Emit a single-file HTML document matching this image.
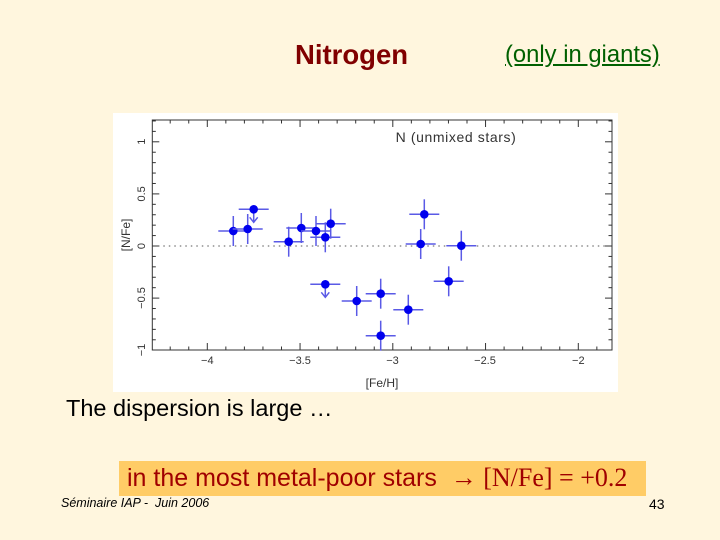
<!DOCTYPE html>
<html><head><meta charset="utf-8"><style>
html,body{margin:0;padding:0}
body{width:720px;height:540px;background:#FFF6DE;position:relative;overflow:hidden;font-family:"Liberation Sans",sans-serif}
.t{position:absolute;white-space:nowrap}
</style></head><body>
<div class="t" style="left:295px;top:39px;font-size:27.5px;font-weight:bold;color:#800000">Nitrogen</div>
<div class="t" style="left:505px;top:41px;font-size:23.8px;color:#006000;text-decoration:underline">(only in giants)</div>
<div style="position:absolute;left:113px;top:113px;width:505px;height:279px;background:#fff"></div>
<svg style="position:absolute;left:0;top:0" width="720" height="540" id="s">
<rect x="152.3" y="120" width="459.7" height="230" fill="none" stroke="#333" stroke-width="1"/>
<line x1="152.3" y1="246" x2="612" y2="246" stroke="#555" stroke-dasharray="1.5,4"/>
<g id="ticks" stroke="#333" stroke-width="1"></g>
<g font-family="Liberation Sans,sans-serif" font-size="11" fill="#333" text-anchor="middle">
<text x="207.3" y="364">−4</text><text x="300" y="364">−3.5</text><text x="392.5" y="364">−3</text><text x="485" y="364">−2.5</text><text x="578.3" y="364">−2</text>
<text transform="translate(145,141.7) rotate(-90)">1</text>
<text transform="translate(145,193.9) rotate(-90)">0.5</text>
<text transform="translate(145,246) rotate(-90)">0</text>
<text transform="translate(145,298) rotate(-90)">−0.5</text>
<text transform="translate(145,350) rotate(-90)">−1</text>
<text x="382" y="387" font-size="12">[Fe/H]</text>
<text transform="translate(130,235) rotate(-90)" font-size="12">[N/Fe]</text>
<text x="456" y="142" font-size="14" letter-spacing="0.6">N (unmixed stars)</text>
</g>
<g id="pts"></g>
</svg>
<div class="t" style="left:66px;top:395px;font-size:23.5px;color:#000">The dispersion is large …</div>
<div style="position:absolute;left:119px;top:461px;width:527px;height:35px;background:#FFCC66"></div>
<div class="t" style="left:127px;top:463px;font-size:25px;color:#A00000">in the most metal-poor stars &nbsp;<span style="font-family:'Liberation Serif',serif;font-size:26px">→ [N/Fe] = +0.2</span></div>
<div class="t" style="left:61px;top:496px;font-size:12.5px;font-style:italic;color:#000">Séminaire IAP - &nbsp;Juin 2006</div>
<div class="t" style="left:649px;top:496px;font-size:14px;color:#000">43</div>
<script>
var ns="http://www.w3.org/2000/svg";
function el(p,n,a){var e=document.createElementNS(ns,n);for(var k in a)e.setAttribute(k,a[k]);p.appendChild(e);return e;}
var T=document.getElementById("ticks");
function X(v){return 207.3+(v+4)*185.5}
function Y(v){return 246-104.2*v}
for(var i=-43;i<=-18;i++){var v=i/10,x=X(v);if(x<152.5||x>611.8)continue;var L=(i%5==0)?7:3.5;
el(T,"line",{x1:x,y1:350,x2:x,y2:350-L});el(T,"line",{x1:x,y1:120,x2:x,y2:120+L});}
for(var i=-10;i<=12;i++){var v=i/10,y=Y(v);if(y<120.5||y>349.8)continue;var L=(i%5==0)?7:3.5;
el(T,"line",{x1:152.3,y1:y,x2:152.3+L,y2:y});el(T,"line",{x1:612,y1:y,x2:612-L,y2:y});}
var P=[[233.3,231],[247.7,229],[253.7,209.3,1],[288.7,241.7],[301.3,228],[316,231],[325.3,237.3],[330.7,223.7],[325.3,284.3,1],[356.7,301],[380.7,293.7],[380.7,335.7],[408.3,309.7],[424.3,214.3],[420.7,244],[461.3,245.7],[448.7,281.3]];
var G=document.getElementById("pts");
P.forEach(function(p){var x=p[0],y=p[1];
el(G,"line",{x1:x-15,y1:y,x2:x+15,y2:y,stroke:"#5a5ae6","stroke-width":1.5});
if(p[2]){el(G,"line",{x1:x,y1:y,x2:x,y2:y+13,stroke:"#5a5ae6","stroke-width":1.5});
el(G,"polyline",{points:(x-4)+","+(y+8)+" "+x+","+(y+13)+" "+(x+4)+","+(y+8),fill:"none",stroke:"#5a5ae6","stroke-width":1.5});}
else el(G,"line",{x1:x,y1:y-15,x2:x,y2:y+15,stroke:"#5a5ae6","stroke-width":1.5});
el(G,"circle",{cx:x,cy:y,r:4.3,fill:"#0000ee"});});
</script>
</body></html>
